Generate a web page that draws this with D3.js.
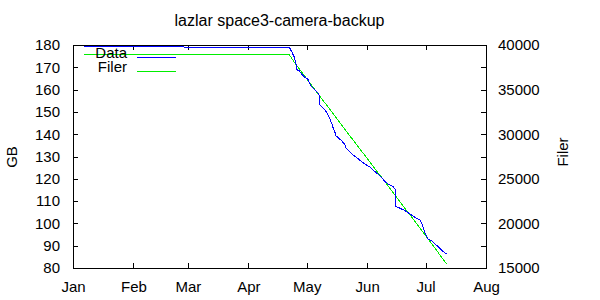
<!doctype html>
<html>
<head>
<meta charset="utf-8">
<title>lazlar space3-camera-backup</title>
<style type="text/css">
  body { margin: 0; background: #fff; }
  svg {
    font: 15px "Liberation Sans", Arial, sans-serif;
  }
  .frame, .tick line {
    fill: none;
    stroke: #000;
    shape-rendering: crispEdges;
  }
  .series {
    fill: none;
    stroke-width: 1;
    shape-rendering: crispEdges;
  }
</style>
</head>
<body>
<div id="chart"></div>

<script src="https://d3js.org/d3.v7.min.js"></script>
<script>
// Data (GB), left axis
const dataTimes = [
  "2023-01-06 15:00", "2023-04-22 01:00", "2023-04-23 06:00", "2023-04-24 11:00",
  "2023-04-25 08:00", "2023-04-25 12:00", "2023-04-25 20:00", "2023-04-27 04:00",
  "2023-04-28 10:00", "2023-04-29 14:00", "2023-04-30 23:00", "2023-05-01 19:00",
  "2023-05-03 00:00", "2023-05-04 09:00", "2023-05-05 18:00", "2023-05-06 22:00",
  "2023-05-07 11:00", "2023-05-07 14:00", "2023-05-08 16:00", "2023-05-09 20:00",
  "2023-05-11 06:00", "2023-05-12 14:00", "2023-05-13 19:00", "2023-05-14 15:00",
  "2023-05-15 12:00", "2023-05-16 00:00", "2023-05-17 05:00", "2023-05-18 23:00",
  "2023-05-20 15:00", "2023-05-21 03:00", "2023-05-23 05:00", "2023-05-25 06:00",
  "2023-05-27 11:00", "2023-05-29 05:00", "2023-05-30 22:00", "2023-06-02 11:00",
  "2023-06-05 01:00", "2023-06-07 14:00", "2023-06-09 16:00", "2023-06-11 21:00",
  "2023-06-14 10:00", "2023-06-15 07:00", "2023-06-15 16:00", "2023-06-15 19:00",
  "2023-06-17 21:00", "2023-06-20 10:00", "2023-06-23 00:00", "2023-06-25 13:00",
  "2023-06-28 03:00", "2023-06-29 00:00", "2023-06-29 20:00", "2023-06-30 17:00",
  "2023-07-02 09:00", "2023-07-04 03:00", "2023-07-05 20:00", "2023-07-08 10:00",
  "2023-07-10 02:00", "2023-07-11 20:00"
];
const dataGB = [
  179.2, 179.0, 177.0, 174.8,
  172.2, 171.3, 168.9, 168.5,
  166.9, 165.8, 165.1, 164.3,
  161.7, 160.6, 159.4, 158.3,
  157.3, 153.4, 152.3, 151.3,
  149.8, 147.4, 144.9, 142.6,
  140.8, 139.3, 138.4, 137.0,
  135.2, 133.7, 131.9, 130.4,
  128.9, 127.7, 126.6, 125.2,
  123.2, 121.4, 119.2, 117.5,
  116.5, 115.3, 112.0, 107.5,
  106.8, 105.7, 104.2, 102.7,
  101.5, 100.0, 97.8, 95.5,
  92.9, 92.2, 90.8, 88.8,
  87.3, 86.3
];

// Filer (file count), right axis
const filerTimes = [
  "2023-01-06 15:00", "2023-04-21 21:00", "2023-04-24 23:00", "2023-05-07 19:00",
  "2023-05-20 15:00", "2023-06-03 07:00", "2023-06-15 07:00", "2023-06-28 03:00",
  "2023-07-11 20:00"
];
const filerCount = [
  38960, 38960, 37950, 34240,
  30530, 26630, 23170, 19460,
  15450
];

const monthLabels = ["Jan", "Feb", "Mar", "Apr", "May", "Jun", "Jul", "Aug"];
const gbTicks = [80, 90, 100, 110, 120, 130, 140, 150, 160, 170, 180];
const filerTicks = [15000, 20000, 25000, 30000, 35000, 40000];

var plotL = 73, plotR = 486, plotT = 45, plotB = 268;
var parse = d3.timeParse("%Y-%m-%d %H:%M");

var svg = d3.select("#chart")
  .append("svg")
  .attr("width", 600)
  .attr("height", 300);

var x = d3.scaleTime()
  .domain([new Date(2023, 0, 1), new Date(2023, 7, 1)])
  .range([plotL, plotR]);
var y = d3.scaleLinear().domain([80, 180]).range([plotB, plotT]);
var y2 = d3.scaleLinear().domain([15000, 40000]).range([plotB, plotT]);

var months = monthLabels.map(function(m, i) { return new Date(2023, i, 1); });

// axes: ticks point inward, mirrored on opposite side
svg.append("g")
  .attr("transform", "translate(0," + plotB + ")")
  .call(d3.axisBottom(x).tickValues(months).tickSizeInner(-5).tickSizeOuter(0)
    .tickPadding(13).tickFormat(function(d, i) { return monthLabels[i]; }))
  .call(function(g) { g.select(".domain").remove(); });

svg.append("g")
  .attr("transform", "translate(0," + plotT + ")")
  .call(d3.axisTop(x).tickValues(months).tickSizeInner(-5).tickSizeOuter(0).tickFormat(""))
  .call(function(g) { g.select(".domain").remove(); });

svg.append("g")
  .attr("transform", "translate(" + plotL + ",0)")
  .call(d3.axisLeft(y).tickValues(gbTicks).tickSizeInner(-5).tickSizeOuter(0).tickPadding(13))
  .call(function(g) { g.select(".domain").remove(); });

svg.append("g")
  .attr("transform", "translate(" + plotR + ",0)")
  .call(d3.axisRight(y).tickValues(gbTicks).tickSizeInner(-5).tickSizeOuter(0).tickFormat(""))
  .call(function(g) { g.select(".domain").remove(); });

svg.append("g")
  .attr("transform", "translate(" + plotR + ",0)")
  .call(d3.axisRight(y2).tickValues(filerTicks).tickSize(0).tickPadding(12).tickFormat(d3.format("d")))
  .call(function(g) { g.select(".domain").remove(); });

svg.selectAll(".tick text")
  .attr("fill", "#000")
  .style("font-size", "15px")
  .style("font-family", "'Liberation Sans', Arial, sans-serif");

svg.append("rect")
  .attr("class", "frame")
  .attr("x", plotL + 0.5)
  .attr("y", plotT + 0.5)
  .attr("width", plotR - plotL)
  .attr("height", plotB - plotT);

// titles
svg.append("text")
  .attr("x", (plotL + plotR) / 2)
  .attr("y", 26)
  .attr("text-anchor", "middle")
  .style("font-size", "16px")
  .text("lazlar space3-camera-backup");

svg.append("text")
  .attr("transform", "translate(17,157) rotate(-90)")
  .attr("text-anchor", "middle")
  .text("GB");

svg.append("text")
  .attr("transform", "translate(568,152) rotate(-90)")
  .attr("text-anchor", "middle")
  .text("Filer");

// series
svg.append("clipPath").attr("id", "clip")
  .append("rect").attr("x", plotL).attr("y", plotT)
  .attr("width", plotR - plotL).attr("height", plotB - plotT);

var dataPts = dataTimes.map(function(t, i) { return [parse(t), dataGB[i]]; });
var filerPts = filerTimes.map(function(t, i) { return [parse(t), filerCount[i]]; });

svg.append("path")
  .attr("class", "series")
  .attr("clip-path", "url(#clip)")
  .attr("stroke", "#00ee00")
  .attr("d", d3.line().x(function(d) { return x(d[0]); }).y(function(d) { return y2(d[1]); })(filerPts));

svg.append("path")
  .attr("class", "series")
  .attr("clip-path", "url(#clip)")
  .attr("stroke", "#0000ff")
  .attr("d", d3.line().x(function(d) { return x(d[0]); }).y(function(d) { return y(d[1]); })(dataPts));

// legend
var legend = svg.selectAll(".legend")
  .data([{ name: "Data", color: "#0000ff" }, { name: "Filer", color: "#00ee00" }])
  .enter().append("g")
  .attr("class", "legend")
  .attr("transform", function(d, i) { return "translate(0," + (57 + i * 14) + ")"; });

legend.append("text")
  .attr("x", 127)
  .attr("y", 1)
  .attr("text-anchor", "end")
  .text(function(d) { return d.name; });

legend.append("rect")
  .attr("x", 137).attr("width", 39)
  .attr("y", 0).attr("height", 1)
  .attr("fill", function(d) { return d.color; });
</script>
</body>
</html>
